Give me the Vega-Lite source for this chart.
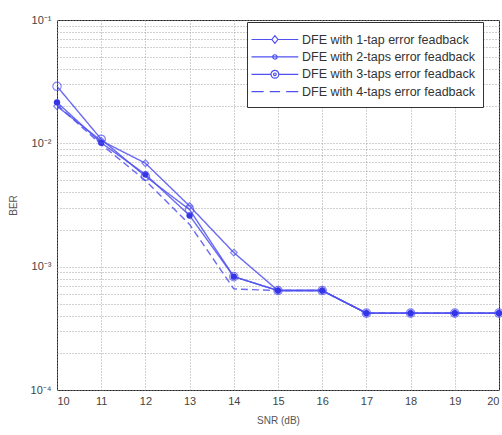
{
  "$schema": "https://vega.github.io/schema/vega-lite/v6.json",
  "width": 442,
  "height": 370,
  "autosize": "none",
  "padding": {"left": 57, "top": 20, "right": 3, "bottom": 45},
  "config": {
    "view": {"stroke": "#222", "strokeWidth": 1},
    "font": "Liberation Sans",
    "axis": {"labelFont": "Liberation Sans", "titleFont": "Liberation Sans", "labelColor": "#444", "titleColor": "#555", "labelFontSize": 11, "titleFontSize": 10, "titleFontWeight": "normal", "domain": false, "tickColor": "#444", "gridColor": "#999", "gridDash": [1, 2], "gridOpacity": 0.9}
  },
  "data": {
    "values": [
      {"snr": 10, "ber": 0.020, "series": "DFE with 1-tap error feadback"},
      {"snr": 11, "ber": 0.0105, "series": "DFE with 1-tap error feadback"},
      {"snr": 12, "ber": 0.0069, "series": "DFE with 1-tap error feadback"},
      {"snr": 13, "ber": 0.0031, "series": "DFE with 1-tap error feadback"},
      {"snr": 14, "ber": 0.0013, "series": "DFE with 1-tap error feadback"},
      {"snr": 15, "ber": 0.00064, "series": "DFE with 1-tap error feadback"},
      {"snr": 16, "ber": 0.00064, "series": "DFE with 1-tap error feadback"},
      {"snr": 17, "ber": 0.00042, "series": "DFE with 1-tap error feadback"},
      {"snr": 18, "ber": 0.00042, "series": "DFE with 1-tap error feadback"},
      {"snr": 19, "ber": 0.00042, "series": "DFE with 1-tap error feadback"},
      {"snr": 20, "ber": 0.00042, "series": "DFE with 1-tap error feadback"},
      {"snr": 10, "ber": 0.0215, "series": "DFE with 2-taps error feadback"},
      {"snr": 11, "ber": 0.0101, "series": "DFE with 2-taps error feadback"},
      {"snr": 12, "ber": 0.0056, "series": "DFE with 2-taps error feadback"},
      {"snr": 13, "ber": 0.0026, "series": "DFE with 2-taps error feadback"},
      {"snr": 14, "ber": 0.00083, "series": "DFE with 2-taps error feadback"},
      {"snr": 15, "ber": 0.00064, "series": "DFE with 2-taps error feadback"},
      {"snr": 16, "ber": 0.00064, "series": "DFE with 2-taps error feadback"},
      {"snr": 17, "ber": 0.00042, "series": "DFE with 2-taps error feadback"},
      {"snr": 18, "ber": 0.00042, "series": "DFE with 2-taps error feadback"},
      {"snr": 19, "ber": 0.00042, "series": "DFE with 2-taps error feadback"},
      {"snr": 20, "ber": 0.00042, "series": "DFE with 2-taps error feadback"},
      {"snr": 10, "ber": 0.029, "series": "DFE with 3-taps error feadback"},
      {"snr": 11, "ber": 0.0108, "series": "DFE with 3-taps error feadback"},
      {"snr": 12, "ber": 0.0054, "series": "DFE with 3-taps error feadback"},
      {"snr": 13, "ber": 0.0029, "series": "DFE with 3-taps error feadback"},
      {"snr": 14, "ber": 0.00083, "series": "DFE with 3-taps error feadback"},
      {"snr": 15, "ber": 0.00064, "series": "DFE with 3-taps error feadback"},
      {"snr": 16, "ber": 0.00064, "series": "DFE with 3-taps error feadback"},
      {"snr": 17, "ber": 0.00042, "series": "DFE with 3-taps error feadback"},
      {"snr": 18, "ber": 0.00042, "series": "DFE with 3-taps error feadback"},
      {"snr": 19, "ber": 0.00042, "series": "DFE with 3-taps error feadback"},
      {"snr": 20, "ber": 0.00042, "series": "DFE with 3-taps error feadback"},
      {"snr": 10, "ber": 0.0205, "series": "DFE with 4-taps error feadback"},
      {"snr": 11, "ber": 0.0098, "series": "DFE with 4-taps error feadback"},
      {"snr": 12, "ber": 0.0050, "series": "DFE with 4-taps error feadback"},
      {"snr": 13, "ber": 0.0022, "series": "DFE with 4-taps error feadback"},
      {"snr": 14, "ber": 0.00066, "series": "DFE with 4-taps error feadback"},
      {"snr": 15, "ber": 0.00064, "series": "DFE with 4-taps error feadback"},
      {"snr": 16, "ber": 0.00064, "series": "DFE with 4-taps error feadback"},
      {"snr": 17, "ber": 0.00042, "series": "DFE with 4-taps error feadback"},
      {"snr": 18, "ber": 0.00042, "series": "DFE with 4-taps error feadback"},
      {"snr": 19, "ber": 0.00042, "series": "DFE with 4-taps error feadback"},
      {"snr": 20, "ber": 0.00042, "series": "DFE with 4-taps error feadback"}
    ]
  },
  "encoding": {
    "x": {"field": "snr", "type": "quantitative", "scale": {"domain": [10, 20], "nice": false}, "title": "SNR (dB)",
      "axis": {"values": [10, 11, 12, 13, 14, 15, 16, 17, 18, 19, 20], "tickSize": 0, "labelPadding": 5, "titlePadding": 9}},
    "y": {"field": "ber", "type": "quantitative", "scale": {"type": "log", "domain": [0.0001, 0.1], "nice": false}, "title": "BER",
      "axis": {"values": [0.0001, 0.0002, 0.0003, 0.0004, 0.0005, 0.0006, 0.0007, 0.0008, 0.0009, 0.001, 0.002, 0.003, 0.004, 0.005, 0.006, 0.007, 0.008, 0.009, 0.01, 0.02, 0.03, 0.04, 0.05, 0.06, 0.07, 0.08, 0.09, 0.1],
        "labelExpr": "abs(log(datum.value)/LN10 - round(log(datum.value)/LN10)) > 0.01 ? '' : round(log(datum.value)/LN10) == -4 ? '10⁻⁴' : round(log(datum.value)/LN10) == -3 ? '10⁻³' : round(log(datum.value)/LN10) == -2 ? '10⁻²' : '10⁻¹'",
        "labelOverlap": false, "tickSize": 0, "labelPadding": 6, "titlePadding": 12}}
  },
  "layer": [
    {
      "mark": {"type": "line", "strokeWidth": 1.4, "color": "#5050f0", "opacity": 0.85},
      "encoding": {
        "detail": {"field": "series"},
        "strokeDash": {"field": "series", "scale": {"range": [[1, 0], [1, 0], [1, 0], [7, 4]]}, "legend": null}
      }
    },
    {
      "transform": [{"filter": "datum.series == 'DFE with 1-tap error feadback'"}],
      "mark": {"type": "point", "shape": "diamond", "filled": false, "size": 45, "color": "#5050f0", "strokeWidth": 1.2}
    },
    {
      "transform": [{"filter": "datum.series == 'DFE with 2-taps error feadback'"}],
      "mark": {"type": "point", "shape": "circle", "filled": true, "size": 40, "color": "#3535e8", "opacity": 1}
    },
    {
      "transform": [{"filter": "datum.series == 'DFE with 3-taps error feadback'"}],
      "mark": {"type": "point", "shape": "circle", "filled": false, "size": 70, "color": "#5050f0", "strokeWidth": 1.2}
    },
    {
      "mark": {"type": "point", "opacity": 0, "size": 1},
      "encoding": {
        "shape": {"field": "series", "type": "nominal",
          "scale": {"range": [
            "M-1.5,0L0.85,0M1.55,0L3.9,0M1.2,-0.45L1.55,0L1.2,0.45L0.85,0Z",
            "M-1.5,0L3.9,0M0.95,0A0.25,0.25 0 1,0 1.45,0A0.25,0.25 0 1,0 0.95,0Z",
            "M-1.5,0L0.75,0M1.65,0L3.9,0M0.75,0A0.45,0.45 0 1,0 1.65,0A0.45,0.45 0 1,0 0.75,0ZM1.05,0A0.15,0.15 0 1,0 1.35,0A0.15,0.15 0 1,0 1.05,0Z",
            "M-1.5,0L-0.1,0M0.6,0L1.8,0M2.5,0L3.9,0"
          ]},
          "legend": {"title": null, "orient": "none", "legendX": 190, "legendY": 2, "padding": 8, "strokeColor": "#333", "fillColor": "white",
            "symbolSize": 300, "symbolOpacity": 1, "symbolStrokeColor": "#5050f0", "symbolStrokeWidth": 1.2, "symbolFillColor": "transparent",
            "labelFontSize": 12.5, "labelColor": "#333", "labelFont": "Liberation Sans", "labelOffset": 28, "rowPadding": 1.4, "labelLimit": 400,
            "labelExpr": "datum.label + '   '",
            "encode": {"symbols": {"update": {"fill": {"signal": "datum.value == 'DFE with 2-taps error feadback' ? '#3535e8' : 'transparent'"}}}}}
        }
      }
    }
  ]
}
